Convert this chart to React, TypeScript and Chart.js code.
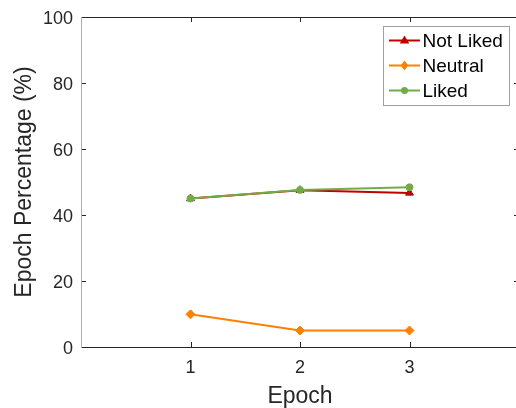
import React, { useEffect, useRef } from 'react';
import { Chart, registerables } from 'chart.js';

Chart.register(...registerables);

const epochs = [1, 2, 3];
const notLiked = [45.0, 47.5, 46.7];
const neutral = [9.9, 5.0, 5.0];
const liked = [45.0, 47.6, 48.4];
const yTicks = [0, 20, 40, 60, 80, 100];
const xTicks = [1, 2, 3];
const seriesNames = ['Not Liked', 'Neutral', 'Liked'];
const seriesColors = ['#C00000', '#FF8000', '#70AD47'];
const seriesMarkers = ['triangle', 'rectRot', 'circle'];

const FONT = "'Liberation Sans', Arial, Helvetica, sans-serif";

function drawMarker(ctx: CanvasRenderingContext2D, style: string, x: number, y: number, r: number) {
  ctx.beginPath();
  if (style === 'triangle') {
    ctx.moveTo(x, y - r);
    ctx.lineTo(x + r * 0.95, y + r * 0.6);
    ctx.lineTo(x - r * 0.95, y + r * 0.6);
    ctx.closePath();
  } else if (style === 'rectRot') {
    ctx.moveTo(x, y - r);
    ctx.lineTo(x + r * 0.75, y);
    ctx.lineTo(x, y + r);
    ctx.lineTo(x - r * 0.75, y);
    ctx.closePath();
  } else {
    ctx.arc(x, y, r, 0, Math.PI * 2);
  }
  ctx.fill();
}

const framePlugin = {
  id: 'frame',
  beforeDatasetsDraw(chart: any) {
    const { ctx, chartArea, scales } = chart;
    const { left, right, top, bottom } = chartArea;
    ctx.save();
    ctx.lineWidth = 1;
    ctx.strokeStyle = '#262626';
    ctx.beginPath();
    ctx.moveTo(left, top + 0.5);
    ctx.lineTo(right, top + 0.5);
    ctx.moveTo(left, bottom + 0.5);
    ctx.lineTo(right, bottom + 0.5);
    ctx.moveTo(right - 0.5, top);
    ctx.lineTo(right - 0.5, bottom);
    for (const v of xTicks) {
      const px = Math.round(scales.x.getPixelForValue(v)) + 0.5;
      ctx.moveTo(px, bottom);
      ctx.lineTo(px, bottom - 5);
      ctx.moveTo(px, top);
      ctx.lineTo(px, top + 5);
    }
    for (const v of yTicks) {
      const py = Math.round(scales.y.getPixelForValue(v)) + 0.5;
      ctx.moveTo(left, py);
      ctx.lineTo(left + 5, py);
      ctx.moveTo(right, py);
      ctx.lineTo(right - 5, py);
    }
    ctx.stroke();
    ctx.strokeStyle = '#AFAFAF';
    ctx.beginPath();
    ctx.moveTo(left + 0.5, top);
    ctx.lineTo(left + 0.5, bottom + 1);
    ctx.stroke();
    ctx.restore();
  },
};

const legendPlugin = {
  id: 'boxLegend',
  afterDraw(chart: any) {
    const { ctx } = chart;
    const bx = 383.5, by = 26.5, bw = 126, bh = 79;
    ctx.save();
    ctx.fillStyle = '#FFFFFF';
    ctx.fillRect(bx, by, bw, bh);
    ctx.strokeStyle = '#A0A0A0';
    ctx.lineWidth = 1;
    ctx.strokeRect(bx, by, bw, bh);
    const rows = [40.5, 65.5, 90.5];
    chart.data.datasets.forEach((ds: any, i: number) => {
      const y = rows[i];
      ctx.strokeStyle = ds.borderColor;
      ctx.lineWidth = 2;
      ctx.beginPath();
      ctx.moveTo(389, y);
      ctx.lineTo(420, y);
      ctx.stroke();
      ctx.fillStyle = ds.borderColor;
      drawMarker(ctx, ds.pointStyle, 404.5, y, ds.pointStyle === 'circle' ? 3.5 : 5);
      ctx.fillStyle = '#000000';
      ctx.font = `19px ${FONT}`;
      ctx.textBaseline = 'middle';
      ctx.textAlign = 'left';
      ctx.fillText(ds.label, 422.5, y + 1);
    });
    ctx.restore();
  },
};

export default function App() {
  const canvasRef = useRef<HTMLCanvasElement | null>(null);

  useEffect(() => {
    const canvas = canvasRef.current;
    if (!canvas) return;
    const seriesValues = [notLiked, neutral, liked];
    const chart = new Chart(canvas, {
      type: 'line',
      data: {
        datasets: seriesNames.map((name, i) => ({
          label: name,
          data: epochs.map((e, j) => ({ x: e, y: seriesValues[i][j] })),
          borderColor: seriesColors[i],
          backgroundColor: seriesColors[i],
          pointBackgroundColor: seriesColors[i],
          pointBorderColor: seriesColors[i],
          pointStyle: seriesMarkers[i],
          pointRadius: seriesMarkers[i] === 'circle' ? 3.5 : 4.5,
          pointBorderWidth: 1,
          borderWidth: 2,
          tension: 0,
          fill: false,
          order: 3 - i,
        })),
      },
      options: {
        animation: false,
        responsive: false,
        devicePixelRatio: 1,
        layout: { autoPadding: false, padding: { top: 17, left: 0, right: 0, bottom: 0 } },
        plugins: {
          legend: { display: false },
          tooltip: { enabled: false },
        },
        scales: {
          x: {
            type: 'linear',
            min: 0,
            max: 4,
            afterBuildTicks: (scale: any) => {
              scale.ticks = xTicks.map((v) => ({ value: v }));
            },
            afterFit: (scale: any) => {
              scale.height = 61;
              scale.paddingLeft = 0;
              scale.paddingRight = 0;
            },
            grid: { display: false, drawTicks: false },
            border: { display: false },
            ticks: {
              padding: 10,
              color: '#262626',
              font: { size: 18, family: FONT },
              maxRotation: 0,
              autoSkip: false,
            },
            title: {
              display: true,
              text: 'Epoch',
              color: '#262626',
              font: { size: 23, family: FONT, lineHeight: 1 },
              padding: { top: 1, bottom: 0 },
            },
          },
          y: {
            min: 0,
            max: 100,
            afterBuildTicks: (scale: any) => {
              scale.ticks = yTicks.map((v) => ({ value: v }));
            },
            afterFit: (scale: any) => {
              scale.width = 81;
              scale.paddingTop = 0;
              scale.paddingBottom = 0;
            },
            grid: { display: false, drawTicks: false },
            border: { display: false },
            ticks: {
              padding: 8,
              labelOffset: 2,
              color: '#262626',
              font: { size: 18, family: FONT },
            },
            title: {
              display: true,
              text: 'Epoch Percentage (%)',
              color: '#262626',
              font: { size: 23, family: FONT },
              padding: { top: 11, bottom: 0 },
            },
          },
        },
      },
      plugins: [framePlugin, legendPlugin],
    } as any);
    return () => chart.destroy();
  }, []);

  return (
    <div
      style={{
        position: 'absolute',
        left: 0,
        top: 0,
        width: 516,
        height: 408,
        overflow: 'hidden',
        background: '#FFFFFF',
      }}
    >
      <canvas ref={canvasRef} width={519} height={408} style={{ display: 'block', width: 519, height: 408 }} />
    </div>
  );
}
